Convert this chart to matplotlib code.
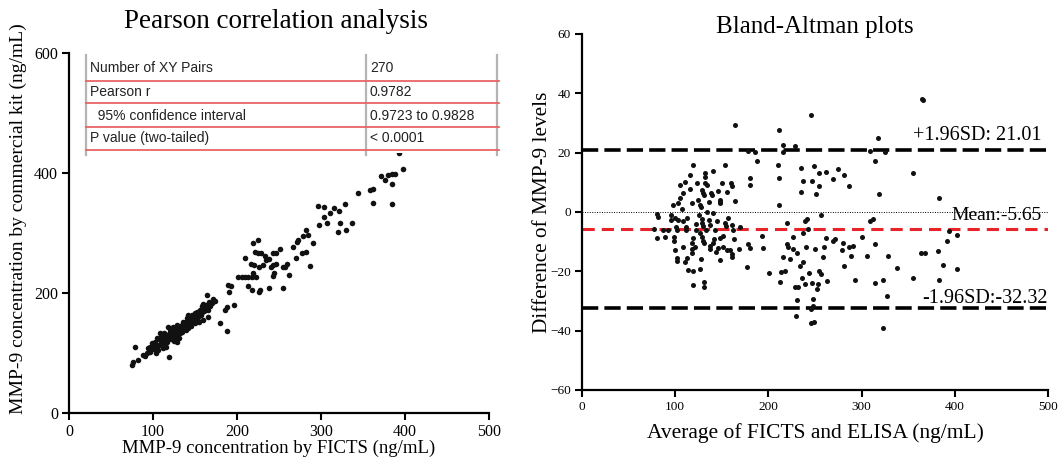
import matplotlib
matplotlib.use("Agg")
import matplotlib.pyplot as plt
from matplotlib.patches import Rectangle
from matplotlib.lines import Line2D

# ---------------- data ----------------
# Left panel: FICTS (x) vs commercial kit (y), ng/mL
fic_low = [74.6, 76.5, 78.6, 82.5, 91, 92.5, 96.4, 94.4, 98.4, 100.4, 102.4, 104.4, 106.3, 107.5,
           110.3, 108.3, 112.3, 114.3, 116.3, 119.4, 118.2, 120.2, 122.2, 124.2, 118.2, 126.2, 128.2,
           130.1, 132.1, 134.1, 136, 138, 140, 142, 144, 146, 148, 150, 152, 153, 156, 155, 157.3,
           159.3, 162.3, 165, 164, 167, 170, 174, 164, 180, 188.5, 186, 188.5, 197, 191, 192.5, 189.6,
           88, 95, 97, 101, 103, 105, 109, 111, 113, 115, 117, 119, 121, 123, 125, 127, 129, 131, 133,
           135, 137, 139, 141, 143, 145, 147, 149, 151, 154, 158, 161, 163, 166, 168, 115, 110, 125,
           135, 145, 150, 103, 99, 128, 142, 158, 172, 120, 113, 107, 131, 139, 152, 160]
kit_low = [80, 85.5, 110.5, 87.7, 95, 99.5, 102, 108, 106, 112, 119, 124.5, 105, 113,
           119, 133, 108, 115, 122, 93, 127, 135.5, 130, 144, 144, 127, 119,
           138, 133, 144, 152, 147, 158, 141, 150, 160.5, 155, 166, 169, 160.5, 171.7, 152, 163,
           155, 174.5, 160.5, 177, 185.5, 183, 187, 197, 150.5, 137, 171.7, 177, 180, 202, 211.7, 213,
           96, 104, 110, 106, 114, 110, 117, 124, 121, 128, 118, 131, 124, 136, 133, 140, 130, 142, 137,
           147, 141, 152, 146, 156, 153, 163, 158, 162, 165, 168, 170, 180, 172, 178, 110, 128, 120,
           135, 145, 150, 100, 117, 146, 164, 178, 190, 140, 133, 123, 125, 138, 157, 182]
fic_high = [393, 398, 388, 384, 380, 372, 376, 385, 362, 358, 344, 362, 384, 297, 303, 315, 311, 321,
            328, 303, 307, 298, 323, 336.5, 320.6, 330, 282, 284, 279, 273, 271, 267, 291, 277, 282,
            287, 270, 262, 255, 259, 257, 251, 247, 243, 238, 233, 229, 225, 221, 219, 225, 210, 234.5,
            230.6, 226.6, 220.6, 216.7, 242.5, 246.4, 240.5, 244.4, 242.5, 219.4, 217.5, 213.5, 209.5,
            205.6, 201.6, 223, 213.5, 217.5, 227.4, 226.6, 238.5, 254.4]
kit_high = [433, 407, 398, 398, 397, 395, 389, 381, 374, 372, 367, 350, 348, 345, 344, 341, 334, 337,
            348, 327, 316, 313, 317, 317, 302, 305, 305, 297, 295, 289, 285, 277, 283, 266, 269,
            245, 258, 230, 243, 249, 244, 274, 267, 266, 256, 262, 267, 266, 269, 283, 289, 258, 255,
            247, 244, 247, 248, 247, 249, 244, 233, 228, 233, 227, 227, 226,
            226, 226, 227, 211, 205, 205, 202, 209, 208]
fic_values = fic_low + fic_high
kit_values = kit_low + kit_high

# Right panel: Bland-Altman (average, difference)
ba_avg = [119.4, 153.4, 132, 132, 141, 110.5, 105, 123, 132, 134, 115.9, 128.7, 130, 131, 138, 139, 146,
          150, 160, 160.5, 155.5, 108.6, 105, 103, 97.3, 124.5, 126.6, 128, 148, 148.5, 148, 164, 134.4,
          140.6, 81, 81.5, 96, 99.8, 103, 108, 92, 77, 86.6, 80, 89, 100.8, 101.6, 111.6, 112, 122, 122.5,
          128.7, 129, 129.5, 136.8, 137, 144.5, 153.4, 154, 161, 161.5, 126.6, 128.7, 130, 131, 119.4,
          141.6, 140.9, 148, 151.6, 155.6, 158.8, 160.6, 160.6, 168.8, 178.4, 180.3, 176.7, 148, 137.3,
          137.3, 117.7, 117.7, 108.7, 99.8, 101.6, 102.3, 98.2, 98.2, 112.3, 110.5, 114, 119.4, 126.6,
          119.4, 130.9, 130.9, 127.4, 117.7, 121.2, 180.3, 180.3, 164.2, 178.5,
          95, 107, 113, 118, 125, 133, 143, 146, 151, 157, 163, 170, 116, 136, 144,
          187.5, 185.7, 211.8, 210.4, 211.8, 211.8, 216, 215.4, 228.6, 220, 234.7, 234.7, 237.5, 239.4,
          241, 245.8, 249, 247.2, 251, 254, 254.7, 256, 261.9, 269.8, 275, 281, 286, 309, 314.5, 317.4,
          319, 325, 309.2, 312, 355.6, 365.3, 366, 383.5,
          192.8, 194.6, 201, 212.5, 213, 216, 218, 219.6, 220.8, 223.2, 226, 226.8, 228.6, 230.4, 230.4,
          229.7, 232.2, 234, 235.8, 236.9, 237.5, 239.4, 240.4, 243, 244, 245.4, 246.5, 248.3, 247.6,
          245.4, 249, 250, 251.9, 253.6, 254.7, 256, 259, 259.8, 261.9, 263.3, 269.8, 271.6, 278.7,
          280.5, 281.3, 287, 288.4, 290.5, 293, 300, 305.5, 314.5, 314.5, 322.7, 323.4, 327, 328.8,
          337.7, 354.9, 363.9, 368.2, 381.8, 383.5, 387.8, 391.4, 394.3, 402, 402.6]
ba_diff = [15.8, 15.8, 13.0, 11.9, 13.9, 10.2, 9.1, 9.7, 9.9, 9.1, 7.6, 7.4, 6.5, 5.8, 6.4, 5.6, 7.2,
           9.7, 9.8, 8.6, 6.8, 6.5, 4.7, 3.1, 2.4, 4.0, 2.4, 1.8, 4.2, 3.5, 3.0, 3.8, 0.1,
           -0.2, -0.8, -1.8, -2.7, -2.0, -2.6, -3.1, -6.1, -5.7, -6.1, -8.9, -8.5, -5.0, -6.1, -5.2, -6.0, -4.0, -6.1,
           -2.5, -3.6, -4.8, -2.7, -4.4, -2.9, -3.7, -4.6, -4.4, -6.2, -7.0, -8.4, -9.7, -10.5, -8.9,
           -9.1, -10.5, -8.9, -11.9, -12.8, -12.8, -14.2, -15.1, -12.6, -10.9, -12.2, -18.4, -16.2, -11.5,
           -12.6, -12.6, -13.9, -11.9, -12.8, -15.5, -16.4, -9.7, -8.5, -15.6, -16.7, -19.5, -19.8, -19.3,
           -24.6, -25.2, -23.5, -15.9, -10.5, -11.7, 11.4, 9.1, 29.2, 20.7,
           -1.0, 1.0, -2.0, 3.0, -1.0, -6.0, -6.0, -12.0, -8.0, -2.0, -9.0, -5.0, 12.5, 3.5, -13.5,
           17.3, 20.1, 27.5, 15.7, 11.6, 2.3, 22.7, 20.1, 22.4, -3.6, 14.7, 6.8, 10.3, -3.1,
           -2.3, 32.8, 15.4, 10.3, 6.2, 13.0, 8.6, -1.1, 13.4, 11.2, 14.6, 12.5, 8.8, 20.7, 17.3, 24.9,
           6.0, 20.1, -3.1, -2.5, 13.0, 38.2, 37.6, 4.6,
           -8.0, -12.1, -20.6, -23.7, -20.3, -15.3, -19.8, -10.8, -11.7, -15.8, -8.3, -12.5, -25.4, -13.8, -29.5,
           -35.2, -25.4, -18.1, -22.4, -7.2, -16.7, -24.3, -11.7, -5.7, -20.7, -32.7, -24.0, -29.3, -31.6,
           -37.5, -37.2, -12.5, -25.9, -24.3, -19.8, -20.9, -15.1, -11.7, -8.8, -23.4, -9.7, -9.1, -12.8,
           -10.6, -18.1, -11.9, -14.7, -11.3, -22.9, -8.3, -14.7, -10.8, -24.0, -22.9, -39.2, -28.2, -14.7,
           -18.9, -22.2, -13.8, -13.8, -13.3, -22.8, -17.9, -9.9, -6.5, -7.6, -19.3]

mean_diff = -5.65
upper_loa = 21.01
lower_loa = -32.32

left_xticks = [0, 100, 200, 300, 400, 500]
left_yticks = [0, 200, 400, 600]
right_xticks = [0, 100, 200, 300, 400, 500]
right_yticks = [-60, -40, -20, 0, 20, 40, 60]

table_labels = ["Number of XY Pairs", "Pearson r", "  95% confidence interval", "P value (two-tailed)"]
table_values = ["270", "0.9782", "0.9723 to 0.9828", "< 0.0001"]

# ---------------- figure ----------------
W, H = 1059, 462
fig = plt.figure(figsize=(W / 100, H / 100), dpi=100)
serif = "Liberation Serif"
plt.rcParams["font.family"] = serif


def style(ax):
    for s in ["top", "right"]:
        ax.spines[s].set_visible(False)
    for s in ["left", "bottom"]:
        ax.spines[s].set_linewidth(1.6)
        ax.spines[s].set_color("black")
    ax.tick_params(direction="out", length=5, width=1.5, colors="black")


ax1 = fig.add_axes([69 / W, 1 - 413 / H, 420 / W, 360 / H])
style(ax1)
ax1.scatter(fic_values, kit_values, s=16, color="#111111", linewidths=0, zorder=3)
ax1.set_xlim(0, 500)
ax1.set_ylim(0, 600)
ax1.set_xticks(left_xticks)
ax1.set_yticks(left_yticks)
ax1.tick_params(labelsize=11.5, pad=3)
ax1.set_xlabel("MMP-9 concentration by FICTS (ng/mL)", fontsize=13.5, family=serif)
ax1.xaxis.set_label_coords(0.5, -0.075)
ax1.set_ylabel("MMP-9 concentration by commercial kit (ng/mL)", fontsize=14, family=serif)
ax1.yaxis.set_label_coords(-0.1, 0.54)
fig.text(276 / W, 1 - 22 / H, "Pearson correlation analysis", ha="center", va="center",
         fontsize=19.5, family=serif)

# table overlay
fig.patches.append(Rectangle((86 / W, 1 - 153 / H), 413 / W, 100 / H, transform=fig.transFigure,
                             facecolor="white", edgecolor="none", zorder=5))
for xpx in [86, 366, 497]:
    fig.lines.append(Line2D([xpx / W, xpx / W], [1 - 55 / H, 1 - 155 / H], transform=fig.transFigure,
                            color="#b4b4b4", lw=1.6, zorder=6))
for ypx in [80.7, 103.3, 127.3, 150.3]:
    fig.lines.append(Line2D([86 / W, 499 / W], [1 - ypx / H, 1 - ypx / H], transform=fig.transFigure,
                            color="#ea6464", lw=1.3, zorder=7))
row_centers = [68.5, 92, 115.5, 138.5]
for lab, val, yc in zip(table_labels, table_values, row_centers):
    fig.text(90 / W, 1 - yc / H, lab, ha="left", va="center", fontsize=10,
             family="Liberation Sans", color="#222222", zorder=8)
    fig.text(370 / W, 1 - yc / H, val, ha="left", va="center", fontsize=10,
             family="Liberation Sans", color="#222222", zorder=8)

# right panel
ax2 = fig.add_axes([582 / W, 1 - 390 / H, 466 / W, 356 / H])
style(ax2)
ax2.scatter(ba_avg, ba_diff, s=13, color="#111111", linewidths=0, zorder=3)
ax2.set_xlim(0, 500)
ax2.set_ylim(-60, 60)
ax2.set_xticks(right_xticks)
ax2.set_yticks(right_yticks)
ax2.tick_params(labelsize=9.5, pad=3)
ax2.axhline(0, color="black", lw=0.7, ls=(0, (1, 1.5)), zorder=2)
ax2.axhline(upper_loa, color="black", lw=2.6, ls=(0, (4.5, 1.7)), zorder=2)
ax2.axhline(lower_loa, color="black", lw=2.6, ls=(0, (4.5, 1.7)), zorder=2)
ax2.axhline(mean_diff, color="#e8242a", lw=2.2, ls=(0, (4, 2.3)), zorder=2)
ax2.text(493.5, 24.3, f"+1.96SD: {upper_loa:.2f}", ha="right", va="baseline", fontsize=14.5, family=serif)
ax2.text(493.5, -2.7, f"Mean:{mean_diff:.2f}", ha="right", va="baseline", fontsize=14, family=serif,
         zorder=4)
ax2.text(500, -30.6, f"-1.96SD:{lower_loa:.2f}", ha="right", va="baseline", fontsize=14.5, family=serif)
ax2.set_xlabel("Average of FICTS and ELISA (ng/mL)", fontsize=15.5, family=serif)
ax2.xaxis.set_label_coords(0.5, -0.093)
ax2.set_ylabel("Difference of MMP-9 levels", fontsize=15.3, family=serif)
ax2.yaxis.set_label_coords(-0.064, 0.5)
fig.text(815 / W, 1 - 27 / H, "Bland-Altman plots", ha="center", va="center", fontsize=18, family=serif)

fig.savefig("out.png", dpi=100, facecolor="white")
